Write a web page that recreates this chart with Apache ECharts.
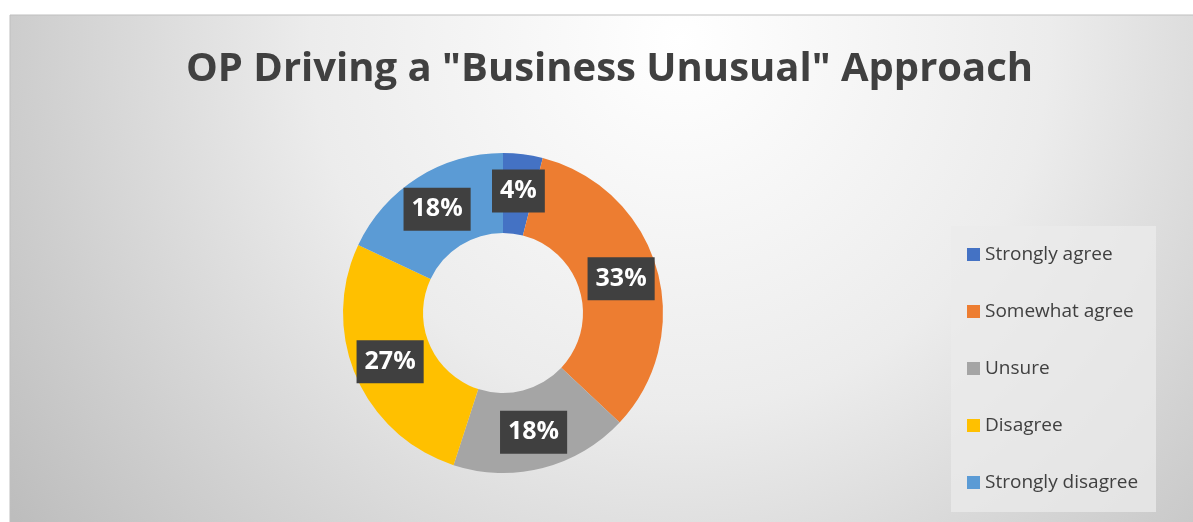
<!DOCTYPE html>
<html>
<head>
<meta charset="utf-8">
<style>
  html, body { margin: 0; padding: 0; background: #ffffff; }
  #chart { width: 1193px; height: 522px; }
</style>
<script src="https://cdn.jsdelivr.net/npm/echarts@6/dist/echarts.min.js"></script>
</head>
<body>
<div id="chart"></div>
<script>
// Survey responses (percent of respondents)
const categories = ['Strongly agree', 'Somewhat agree', 'Unsure', 'Disagree', 'Strongly disagree'];
const shares = [4, 33, 18, 27, 18];
const colors = ['#4472C4', '#ED7D31', '#A5A5A5', '#FFC000', '#5B9BD5'];

const chart = echarts.init(document.getElementById('chart'), null, { renderer: 'canvas' });

const pieData = categories.map((name, i) => ({
  name: name,
  value: shares[i],
  itemStyle: { color: colors[i] }
}));

chart.setOption({
  backgroundColor: '#ffffff',
  animation: false,
  graphic: [
    {
      type: 'rect',
      z: -10,
      shape: { x: 10, y: 15, width: 1190, height: 515 },
      style: {
        fill: {
          type: 'radial', x: 680, y: 40, r: 820, global: true,
          colorStops: [
            { offset: 0, color: '#ffffff' },
            { offset: 0.45, color: '#ececec' },
            { offset: 1, color: '#bdbdbd' }
          ]
        },
        stroke: '#bfbfbf', lineWidth: 1
      }
    },
    {
      type: 'rect',
      z: -5,
      shape: { x: 951, y: 226, width: 205, height: 286 },
      style: { fill: 'rgba(235,235,235,0.75)' }
    }
  ],
  title: {
    text: 'OP Driving a "Business Unusual" Approach',
    left: 181,
    top: 45,
    textStyle: {
      fontFamily: 'Open Sans',
      fontWeight: 'bold',
      fontSize: 40,
      color: '#404040'
    }
  },
  legend: {
    orient: 'vertical',
    left: 951,
    top: 226,
    padding: [19, 16, 19, 16],
    itemGap: 38,
    itemWidth: 13,
    itemHeight: 13,
    icon: 'rect',
    data: categories,
    textStyle: {
      fontFamily: 'Open Sans',
      fontSize: 19,
      color: '#404040',
      lineHeight: 19
    }
  },
  series: [
    {
      type: 'pie',
      center: [503, 313],
      radius: [80, 160],
      startAngle: 90,
      clockwise: true,
      avoidLabelOverlap: false,
      data: pieData,
      label: {
        show: true,
        position: 'inside',
        formatter: '{c}%',
        fontFamily: 'Open Sans',
        fontWeight: 'bold',
        fontSize: 25,
        color: '#ffffff',
        backgroundColor: '#404040',
        padding: [10, 8, 8, 8]
      },
      labelLine: { show: false },
      emphasis: { disabled: true }
    }
  ]
});
</script>
</body>
</html>
